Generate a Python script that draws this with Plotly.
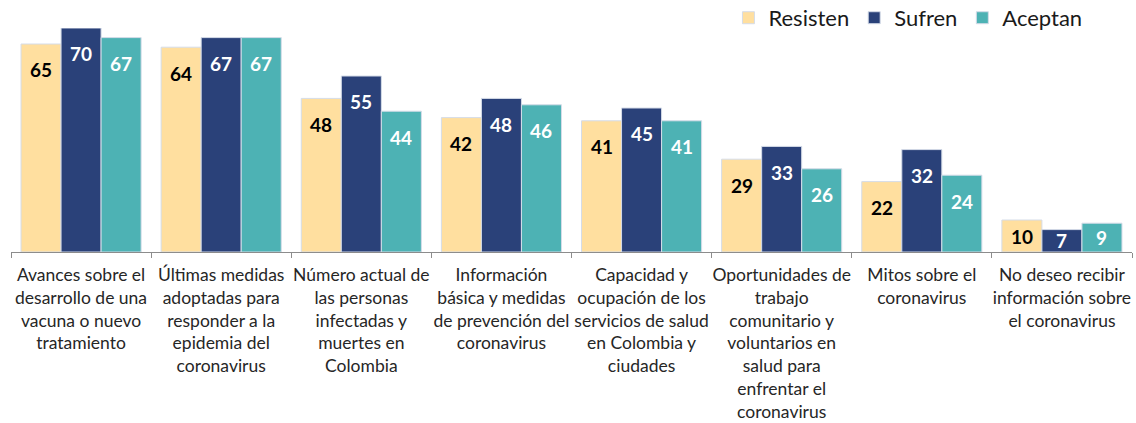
import plotly.graph_objects as go

categories = [
    "Avances sobre el<br>desarrollo de una<br>vacuna o nuevo<br>tratamiento",
    "Últimas medidas<br>adoptadas para<br>responder a la<br>epidemia del<br>coronavirus",
    "Número actual de<br>las personas<br>infectadas y<br>muertes en<br>Colombia",
    "Información<br>básica y medidas<br>de prevención del<br>coronavirus",
    "Capacidad y<br>ocupación de los<br>servicios de salud<br>en Colombia y<br>ciudades",
    "Oportunidades de<br>trabajo<br>comunitario y<br>voluntarios en<br>salud para<br>enfrentar el<br>coronavirus",
    "Mitos sobre el<br>coronavirus",
    "No deseo recibir<br>información sobre<br>el coronavirus",
]
resisten = [65, 64, 48, 42, 41, 29, 22, 10]
sufren = [70, 67, 55, 48, 45, 33, 32, 7]
aceptan = [67, 67, 44, 46, 41, 26, 24, 9]

series = [
    ("Resisten", resisten, "#FFDF9F", "#000000"),
    ("Sufren", sufren, "#2A4179", "#FFFFFF"),
    ("Aceptan", aceptan, "#4DB2B4", "#FFFFFF"),
]

BARGAP = 0.143
FONT = "Lato"

fig = go.Figure()
annotations = []
w = (1 - BARGAP) / 3
for k, (name, vals, color, tcolor) in enumerate(series):
    fig.add_trace(go.Bar(
        name=name, x=categories, y=vals,
        marker=dict(color=color, line=dict(color="#D5DCE8", width=1)),
        hoverinfo="y+name",
    ))
    for i, v in enumerate(vals):
        ylab = v - 8.1 if v >= 15 else v / 2
        annotations.append(dict(
            x=i + (k - 1) * w, y=ylab, xref="x", yref="y",
            text=str(v), showarrow=False, yanchor="middle", xanchor="center",
            font=dict(family=FONT, size=19, color=tcolor, weight="bold"),
        ))

fig.update_layout(
    barmode="group", bargap=BARGAP, bargroupgap=0,
    width=1136, height=423,
    margin=dict(l=11, r=4, t=28, b=171, autoexpand=False),
    plot_bgcolor="white", paper_bgcolor="white",
    font=dict(family=FONT, color="#262626"),
    annotations=annotations,
    legend=dict(
        orientation="h", x=0.64, xanchor="left", y=1.045, yanchor="middle",
        font=dict(family=FONT, size=22, color="#1a1a1a"),
        bgcolor="rgba(0,0,0,0)", itemclick=False,
    ),
    showlegend=True,
)
fig.update_xaxes(
    type="category", showline=True, linecolor="#8C8C8C", linewidth=1,
    ticks="outside", tickson="boundaries", ticklen=5, tickcolor="#8C8C8C",
    tickfont=dict(family=FONT, size=17.5, color="#262626"),
    ticklabelstandoff=7,
    showgrid=False, tickangle=0, automargin=False,
)
fig.update_yaxes(range=[0, 70], visible=False, showgrid=False, automargin=False)

fig.write_html(
    "out.html",
    config={"displayModeBar": False},
    post_script="document.body.style.margin='0';document.body.style.overflow='hidden';",
)
